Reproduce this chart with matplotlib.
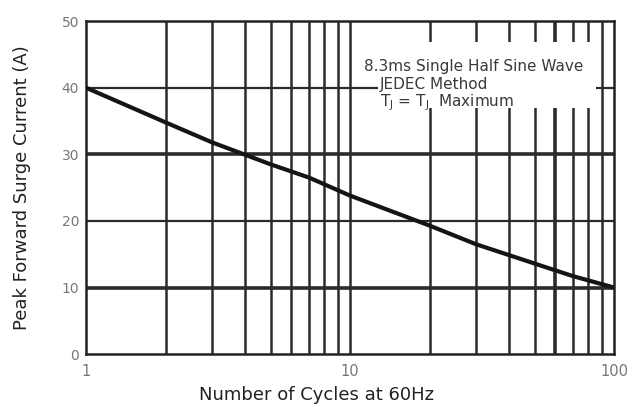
import numpy as np
import matplotlib
matplotlib.use("Agg")
import matplotlib.pyplot as plt
from matplotlib.patches import Rectangle
from matplotlib.ticker import FixedLocator, NullFormatter

plt.rcParams['font.family'] = ['DejaVu Sans']

# surge curve
cycles = [1, 2, 3, 5, 7, 10, 20, 30, 50, 70, 100]
current = [40, 34.8, 31.8, 28.5, 26.5, 23.8, 19.3, 16.5, 13.6, 11.7, 10.0]

y_ticks = [0, 10, 20, 30, 40, 50]
x_ticks = [1, 10, 100]
x_tick_labels = ["1", "10", "100"]
grid_x = [2, 3, 4, 5, 6, 7, 8, 9, 10, 20, 30, 40, 50, 60, 70, 80, 90]
grid_y = [10, 20, 30, 40]

fig = plt.figure(figsize=(6.33, 4.07), dpi=100)
ax = fig.add_axes([0.136, 0.130, 0.834, 0.818])
ax.set_xscale("log")
ax.set_xlim(1, 100)
ax.set_ylim(0, 50)

gc = "#2b2b2b"
for gx in grid_x:
    ax.axvline(gx, color=gc, lw=2.6 if gx == 60 else 1.8, zorder=1)
for gy in grid_y:
    ax.axhline(gy, color=gc, lw=2.6 if gy in (10, 30) else 1.6, zorder=1)

# white patch behind the note
ax.add_patch(Rectangle((0.553, 0.739), 0.413, 0.198, transform=ax.transAxes,
                       fc="white", ec="none", zorder=2))

ax.plot(cycles, current, color="#151515", lw=3.0, zorder=3, solid_capstyle="round")

tc = "#3a3a3a"
ax.text(0.527, 0.865, "8.3ms Single Half Sine Wave", transform=ax.transAxes,
        fontsize=11, color=tc, va="center", ha="left", zorder=4)
ax.text(0.557, 0.811, "JEDEC Method", transform=ax.transAxes,
        fontsize=11, color=tc, va="center", ha="left", zorder=4)
ax.text(0.557, 0.755, "T$_\\mathregular{J}$ = T$_\\mathregular{J}$  Maximum", transform=ax.transAxes,
        fontsize=11, color=tc, va="center", ha="left", zorder=4)

ax.set_yticks(y_ticks)
ax.set_yticklabels([str(v) for v in y_ticks], color="#777777", fontsize=10)
ax.xaxis.set_major_locator(FixedLocator(x_ticks))
ax.set_xticklabels(x_tick_labels, color="#777777", fontsize=10.5)
ax.xaxis.set_minor_formatter(NullFormatter())
ax.tick_params(which="both", length=0, pad=5)
ax.tick_params(axis="x", pad=7)

for s in ax.spines.values():
    s.set_linewidth(1.8)
    s.set_color("#222222")

ax.set_xlabel("Number of Cycles at 60Hz", fontsize=13, color="#222222", labelpad=5)
ax.xaxis.set_label_coords(0.436, -0.095)
ax.set_ylabel("Peak Forward Surge Current (A)", fontsize=13, color="#222222", labelpad=22)

fig.savefig("out.png", dpi=100)
